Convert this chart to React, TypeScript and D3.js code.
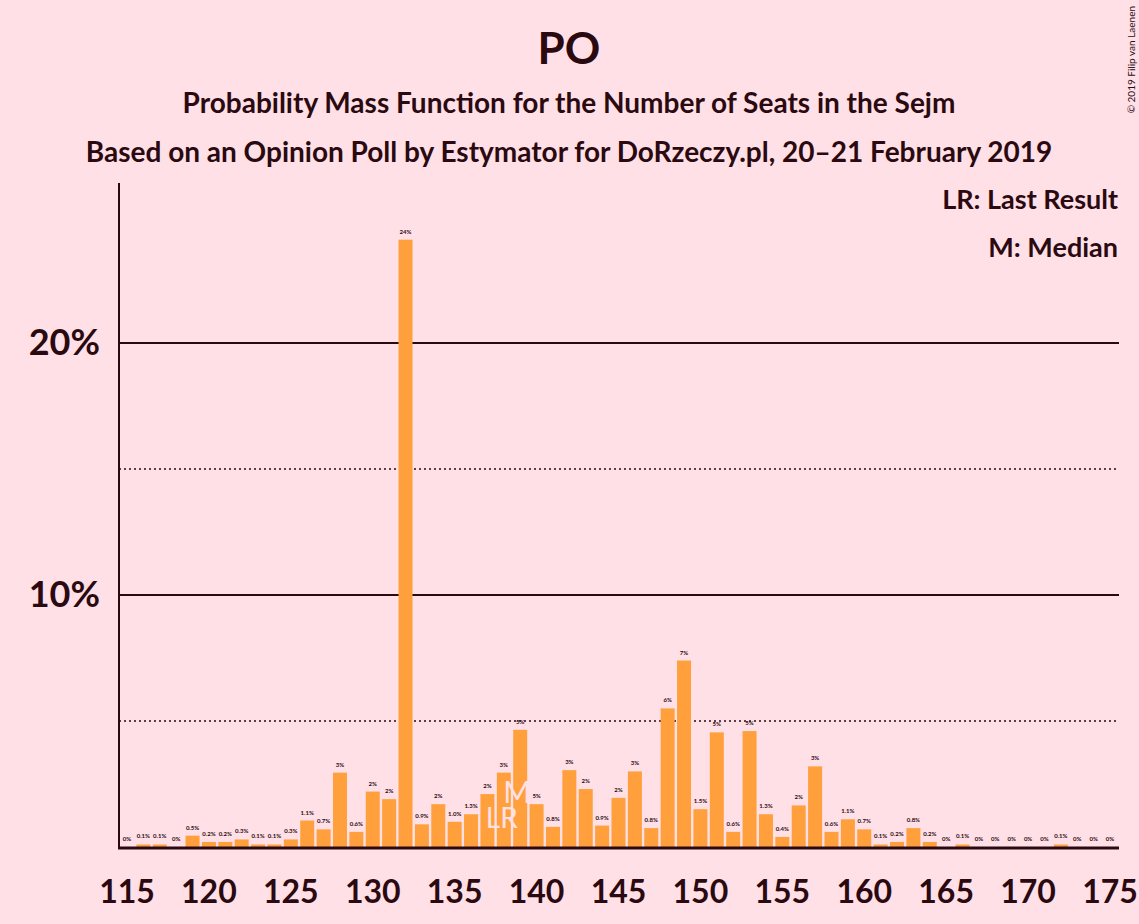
import * as d3 from 'd3';

const seats = d3.range(115, 176);
const probs = [
  0, 0.1, 0.1, 0, 0.45, 0.2, 0.2, 0.3, 0.1, 0.1,
  0.3, 1.05, 0.7, 2.95, 0.6, 2.2, 1.9, 24.1, 0.9, 1.7,
  1.0, 1.3, 2.1, 2.95, 4.65, 1.7, 0.8, 3.05, 2.3, 0.85,
  1.95, 3.0, 0.75, 5.5, 7.4, 1.5, 4.55, 0.6, 4.6, 1.3,
  0.4, 1.65, 3.2, 0.6, 1.1, 0.7, 0.1, 0.2, 0.75, 0.2,
  0, 0.1, 0, 0, 0, 0, 0, 0.1, 0, 0, 0,
];
const labels = [
  '0%', '0.1%', '0.1%', '0%', '0.5%', '0.2%', '0.2%', '0.3%', '0.1%', '0.1%',
  '0.3%', '1.1%', '0.7%', '3%', '0.6%', '2%', '2%', '24%', '0.9%', '2%',
  '1.0%', '1.3%', '2%', '3%', '5%', '5%', '0.8%', '3%', '2%', '0.9%',
  '2%', '3%', '0.8%', '6%', '7%', '1.5%', '5%', '0.6%', '5%', '1.3%',
  '0.4%', '2%', '3%', '0.6%', '1.1%', '0.7%', '0.1%', '0.2%', '0.8%', '0.2%',
  '0%', '0.1%', '0%', '0%', '0%', '0%', '0%', '0.1%', '0%', '0%', '0%',
];
const xTicks = [115, 120, 125, 130, 135, 140, 145, 150, 155, 160, 165, 170, 175];
const solidGrid = [10, 20];
const dottedGrid = [5, 15];
const lastResult = 138;
const median = 139;

const W = 1139, H = 924;
const ink = '#2a0a10';
const font = 'Lato, sans-serif';

export default function App() {
  const x = d3.scaleLinear().domain([115, 175]).range([127, 1110]);
  const y = d3.scaleLinear().domain([0, 26.35]).range([847, 183]);
  const bw = 14;
  return (
    <svg width={W} height={H} style={{ position: 'absolute', left: 0, top: 0, fontFamily: font }}>
      <rect width={W} height={H} fill="#ffe0e6" />
      <text x={569} y={64} textAnchor="middle" fontSize={44} fontWeight="bold" fill={ink}>PO</text>
      <text x={569} y={113} textAnchor="middle" fontSize={28} fontWeight="bold" fill={ink}>Probability Mass Function for the Number of Seats in the Sejm</text>
      <text x={569} y={162} textAnchor="middle" fontSize={28} fontWeight="bold" fill={ink}>Based on an Opinion Poll by Estymator for DoRzeczy.pl, 20–21 February 2019</text>
      <text x={1135} y={6} fontSize={10} fill={ink} transform="rotate(-90 1135 6)" textAnchor="end">© 2019 Filip van Laenen</text>
      {dottedGrid.map(g => (
        <line key={g} x1={119} x2={1119} y1={y(g)} y2={y(g)} stroke={ink} strokeWidth={1.5} strokeDasharray="2,3" />
      ))}
      {solidGrid.map(g => (
        <g key={g}>
          <line x1={119} x2={1119} y1={y(g)} y2={y(g)} stroke={ink} strokeWidth={2} />
          <text x={100} y={y(g) + 12} textAnchor="end" fontSize={36} fontWeight="bold" fill={ink}>{g}%</text>
        </g>
      ))}
      {seats.map((s, i) => (
        <g key={s}>
          <rect x={x(s) - bw / 2} y={y(probs[i])} width={bw} height={847 - y(probs[i])} fill="#ffa03c" />
          <text x={x(s)} y={y(probs[i]) - 6} textAnchor="middle" fontSize={6} fontWeight="bold" fill={ink}>{labels[i]}</text>
        </g>
      ))}
      <text x={x(lastResult) - 2} y={828} textAnchor="middle" fontSize={28} fill="#ffe0e6">LR</text>
      <text x={x(median) - 3} y={803} textAnchor="middle" fontSize={30} fill="#ffe0e6">M</text>
      <line x1={119} x2={119} y1={183} y2={849} stroke={ink} strokeWidth={2} />
      <line x1={118} x2={1119} y1={848} y2={848} stroke={ink} strokeWidth={3} />
      {xTicks.map(t => (
        <text key={t} x={x(t)} y={903} textAnchor="middle" fontSize={32} fontWeight="bold" fill={ink}>{t}</text>
      ))}
      <text x={1118} y={209} textAnchor="end" fontSize={27} fontWeight="bold" fill={ink}>LR: Last Result</text>
      <text x={1118} y={257} textAnchor="end" fontSize={27} fontWeight="bold" fill={ink}>M: Median</text>
    </svg>
  );
}
